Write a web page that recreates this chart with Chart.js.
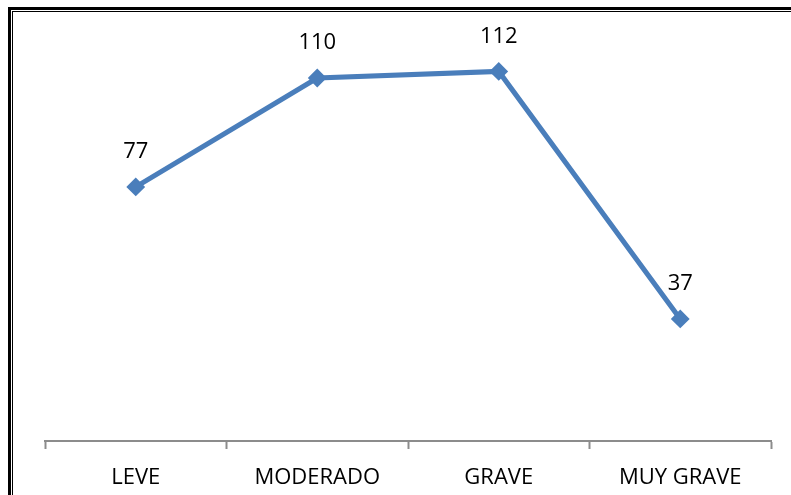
<!DOCTYPE html>
<html>
<head>
<meta charset="utf-8">
<script src="https://cdn.jsdelivr.net/npm/chart.js@4/dist/chart.umd.min.js"></script>
<style>
  html, body { margin: 0; padding: 0; background: #fff; }
  #wrap { position: relative; width: 791px; height: 495px; overflow: hidden; }
  #myChart { position: absolute; left: 0; top: 0; }
  .outer { position: absolute; left: 8px; top: 7px; right: -10px; bottom: -10px; border-left: 3px solid #000; border-top: 3px solid #000; }
  .inner { position: absolute; left: 12px; top: 11px; right: -10px; bottom: -10px; border-left: 1px solid #000; border-top: 1px solid #000; }
</style>
</head>
<body>
<div id="wrap">
  <canvas id="myChart" width="791" height="495"></canvas>
  <div class="outer"></div>
  <div class="inner"></div>
</div>
<script>
const categories = ['LEVE', 'MODERADO', 'GRAVE', 'MUY GRAVE'];
const values = [77, 110, 112, 37];

const lineColor = '#4A7EBB';

// draws the value above each point
const valueLabels = {
    id: 'valueLabels',
    afterDatasetsDraw(chart) {
        const c = chart.ctx;
        const meta = chart.getDatasetMeta(0);
        c.save();
        c.font = '22px "Open Sans", sans-serif';
        c.fillStyle = '#000';
        c.textAlign = 'center';
        c.textBaseline = 'middle';
        meta.data.forEach((pt, i) => {
            c.fillText(String(values[i]), pt.x, pt.y - 35);
        });
        c.restore();
    }
};

const ctx = document.getElementById('myChart').getContext('2d');

let myChart = new Chart(ctx, {
    type: 'line',
    data: {
        labels: categories,
        datasets: [{
            data: values,
            borderColor: lineColor,
            backgroundColor: lineColor,
            borderWidth: 5,
            pointStyle: 'rectRot',
            pointRadius: 8,
            pointBorderWidth: 2,
            pointBorderColor: lineColor,
            pointBackgroundColor: lineColor,
            tension: 0,
            fill: false
        }]
    },
    options: {
        responsive: false,
        animation: false,
        layout: { padding: { left: 45, right: 20, top: 45, bottom: 0 } },
        plugins: {
            legend: { display: false },
            tooltip: { enabled: false }
        },
        scales: {
            x: {
                offset: true,
                afterFit: (scale) => { scale.height = 54; },
                border: { color: '#8c8c8c', width: 2 },
                grid: {
                    offset: true,
                    drawOnChartArea: false,
                    drawTicks: true,
                    tickLength: 8,
                    tickWidth: 2,
                    color: '#8c8c8c'
                },
                ticks: {
                    color: '#000',
                    padding: 16,
                    font: { family: '"Open Sans", sans-serif', size: 22 }
                }
            },
            y: {
                display: false,
                min: 0,
                max: 120
            }
        }
    },
    plugins: [valueLabels]
});
</script>
</body>
</html>
